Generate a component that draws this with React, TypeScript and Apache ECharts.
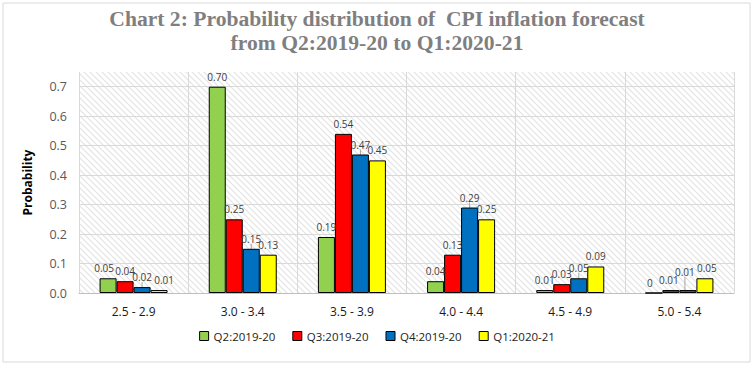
import React, { useEffect, useRef } from "react";
import * as echarts from "echarts";

const categories = ["2.5 - 2.9", "3.0 - 3.4", "3.5 - 3.9", "4.0 - 4.4", "4.5 - 4.9", "5.0 - 5.4"];
const seriesNames = ["Q2:2019-20", "Q3:2019-20", "Q4:2019-20", "Q1:2020-21"];
const q2_2019 = [0.05, 0.7, 0.19, 0.04, 0.01, 0];
const q3_2019 = [0.04, 0.25, 0.54, 0.13, 0.03, 0.01];
const q4_2019 = [0.02, 0.15, 0.47, 0.29, 0.05, 0.01];
const q1_2020 = [0.01, 0.13, 0.45, 0.25, 0.09, 0.05];
const colors = ["#92d050", "#ff0000", "#0070c0", "#ffff00"];
const yTicks = [0, 0.1, 0.2, 0.3, 0.4, 0.5, 0.6, 0.7];

function makePattern(): HTMLCanvasElement {
  const c = document.createElement("canvas");
  c.width = 6;
  c.height = 6;
  const ctx = c.getContext("2d")!;
  ctx.fillStyle = "#ffffff";
  ctx.fillRect(0, 0, 6, 6);
  ctx.strokeStyle = "#e3e3e3";
  ctx.lineWidth = 1.2;
  ctx.beginPath();
  ctx.moveTo(-1, -1);
  ctx.lineTo(7, 7);
  ctx.moveTo(-4, 2);
  ctx.lineTo(4, 10);
  ctx.moveTo(2, -4);
  ctx.lineTo(10, 4);
  ctx.stroke();
  return c;
}

export default function App() {
  const ref = useRef<HTMLDivElement>(null);
  useEffect(() => {
    if (!ref.current) return;
    const chart = echarts.init(ref.current, undefined, { renderer: "svg" });
    const all = [q2_2019, q3_2019, q4_2019, q1_2020];
    const labelFmt = (p: any) => (p.value === 0 ? "0" : Number(p.value).toFixed(2));
    chart.setOption({
      animation: false,
      backgroundColor: "#ffffff",
      title: {
        text: "Chart 2: Probability distribution of  CPI inflation forecast\nfrom Q2:2019-20 to Q1:2020-21",
        left: "center",
        top: 2,
        textStyle: {
          fontFamily: "Liberation Serif",
          fontWeight: "bold",
          fontSize: 21.6,
          color: "#7f7f7f",
          lineHeight: 24,
        },
      },
      graphic: [
        {
          type: "rect",
          shape: { x: 3, y: 3, width: 747, height: 359 },
          style: { fill: "none", stroke: "#d9d9d9", lineWidth: 1 },
          silent: true,
        },
      ],
      legend: {
        bottom: 20,
        left: "center",
        itemWidth: 9,
        itemHeight: 9,
        itemGap: 17,
        icon: "rect",
        textStyle: { fontFamily: "Open Sans", fontSize: 11.5, color: "#222" },
        data: seriesNames.map((n, i) => ({
          name: n,
          itemStyle: { color: colors[i], borderColor: "#000", borderWidth: 1 },
        })),
      },
      grid: {
        left: 79,
        right: 20,
        top: 72,
        bottom: 74,
        show: true,
        borderWidth: 0,
        backgroundColor: { image: makePattern(), repeat: "repeat" } as any,
      },
      xAxis: {
        type: "category",
        data: categories,
        axisLine: { lineStyle: { color: "#bfbfbf" } },
        axisTick: { show: false },
        axisLabel: { fontFamily: "Open Sans", fontSize: 12, color: "#1a1a1a", margin: 12 },
        splitLine: { show: true, showMinLine: true, showMaxLine: true, lineStyle: { color: "#d9d9d9" } },
      },
      yAxis: {
        type: "value",
        min: 0,
        max: 0.75,
        interval: 0.1,
        name: "Probability",
        nameLocation: "middle",
        nameGap: 46,
        nameTextStyle: { fontFamily: "Open Sans", fontWeight: "bold", fontSize: 12, color: "#000" },
        axisLine: { show: false },
        axisTick: { show: false },
        axisLabel: {
          fontFamily: "Open Sans",
          fontSize: 12.5,
          color: "#595959",
          margin: 12,
          showMaxLabel: false,
          formatter: (v: number) => (yTicks.some((t) => Math.abs(t - v) < 1e-9) ? v.toFixed(1) : ""),
        },
        splitLine: { show: true, showMaxLine: false, lineStyle: { color: "#d9d9d9" } },
      },
      series: all.map((d, i) => ({
        name: seriesNames[i],
        type: "bar",
        data: d,
        barWidth: 17,
        barGap: "0%",
        itemStyle: { color: colors[i], borderColor: "#000", borderWidth: 1 },
        label: {
          show: true,
          position: "top",
          distance: 5,
          formatter: labelFmt,
          fontFamily: "Open Sans",
          fontSize: 10,
          color: "#404040",
        },
        labelLine: { show: i === 2, lineStyle: { color: "#a6a6a6", width: 1 } },
        labelLayout: (p: any) => {
          if (i === 2 && p.dataIndex === 5) return { dx: -3, dy: -8 };
          if (i === 1 && p.dataIndex === 5) return { dx: -2 };
          if (i === 0 && p.dataIndex === 5) return { dx: -4 };
          if (i === 0 && p.dataIndex === 0) return { dx: -4 };
          if (i === 3 && p.dataIndex === 0) return { dx: 5 };
          if (i === 3 && p.dataIndex === 5) return { dx: 2 };
          return {};
        },
      })),
    });
    return () => chart.dispose();
  }, []);
  return (
    <div
      ref={ref}
      style={{ position: "fixed", left: 0, top: 0, width: 754, height: 367 }}
    />
  );
}
